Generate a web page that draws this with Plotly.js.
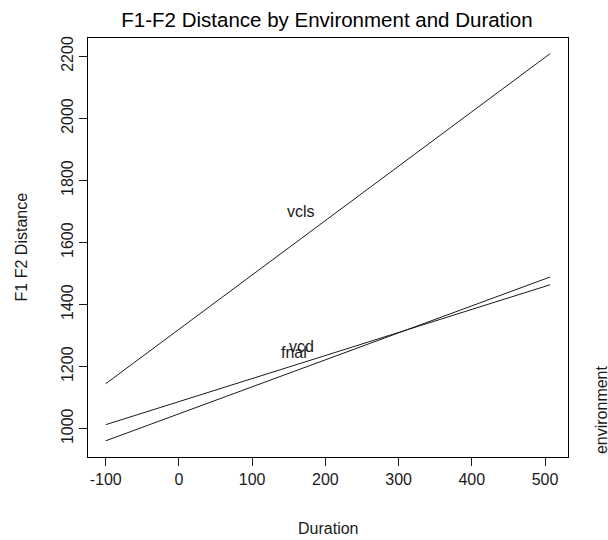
<!DOCTYPE html>
<html>
<head>
<meta charset="utf-8">
<script src="https://cdn.plot.ly/plotly-3.0.1.min.js"></script>
<style>html,body{margin:0;padding:0;background:#fff;}#chart{width:608px;height:540px;}</style>
</head>
<body>
<div id="chart"></div>
<script>
// Data
const environments = ["vcls", "vcd", "fnal"];
const durationEnds = [-100, 507];
const vclsValues = [1145, 2209];
const vcdValues = [1013, 1464];
const fnalValues = [961, 1489];
const labelX = [167, 168, 157];
const labelY = [1700, 1265, 1245];
const xTicks = [-100, 0, 100, 200, 300, 400, 500];
const yTicks = [1000, 1200, 1400, 1600, 1800, 2000, 2200];

const seriesValues = [vclsValues, vcdValues, fnalValues];
const FONT = "Liberation Sans, Arial, sans-serif";
const INK = "#1a1a1a";

const L = 88.3, R = 568.3, T = 38.3, B = 457.3;
const W = R - L, H = B - T;
const px = p => (p - L) / W;
const py = p => (B - p) / H;

const traces = environments.map((env, i) => ({
  type: "scatter",
  mode: "lines",
  name: env,
  x: durationEnds,
  y: seriesValues[i],
  line: {color: INK, width: 1},
  hoverinfo: "skip",
  showlegend: false
}));

const annotations = environments.map((env, i) => ({
  x: labelX[i], y: labelY[i], xref: "x", yref: "y",
  text: env, showarrow: false,
  font: {family: FONT, size: 16, color: INK},
  xanchor: "center", yanchor: "middle"
}));
annotations.push({
  x: px(328), y: py(529), xref: "paper", yref: "paper",
  text: "Duration", showarrow: false,
  font: {family: FONT, size: 16, color: INK},
  xanchor: "center", yanchor: "middle"
});
annotations.push({
  x: px(22), y: py(247), xref: "paper", yref: "paper",
  text: "F1 F2 Distance", showarrow: false, textangle: -90,
  font: {family: FONT, size: 16, color: INK},
  xanchor: "center", yanchor: "middle"
});
annotations.push({
  x: px(601.7), y: py(410), xref: "paper", yref: "paper",
  text: "environment", showarrow: false, textangle: -90,
  font: {family: FONT, size: 16, color: INK},
  xanchor: "center", yanchor: "middle"
});

const layout = {
  width: 608, height: 540,
  paper_bgcolor: "#fff", plot_bgcolor: "#fff",
  margin: {l: L, r: 608 - R, t: T, b: 540 - B, pad: 0},
  showlegend: false,
  title: {
    text: "F1-F2 Distance by Environment and Duration",
    font: {family: FONT, size: 20.5, color: "#000"},
    x: 327 / 608, xref: "container", xanchor: "center",
    y: 1 - 20 / 540, yref: "container", yanchor: "middle"
  },
  xaxis: {
    range: [-124.2, 531.4],
    tickmode: "array", tickvals: xTicks, ticktext: xTicks.map(String),
    ticks: "outside", ticklen: 8, tickcolor: INK, tickwidth: 1,
    showline: true, linecolor: "#000", linewidth: 1, mirror: true,
    showgrid: false, zeroline: false,
    tickfont: {family: FONT, size: 16, color: INK},
    fixedrange: true
  },
  yaxis: {
    range: [908.8, 2259.3],
    tickmode: "array", tickvals: yTicks, ticktext: yTicks.map(String),
    tickangle: -90,
    ticks: "outside", ticklen: 8, tickcolor: INK, tickwidth: 1,
    showline: true, linecolor: "#000", linewidth: 1, mirror: true,
    showgrid: false, zeroline: false,
    tickfont: {family: FONT, size: 16, color: INK},
    fixedrange: true
  },
  annotations: annotations
};

Plotly.newPlot("chart", traces, layout, {staticPlot: true, displayModeBar: false});
</script>
</body>
</html>
